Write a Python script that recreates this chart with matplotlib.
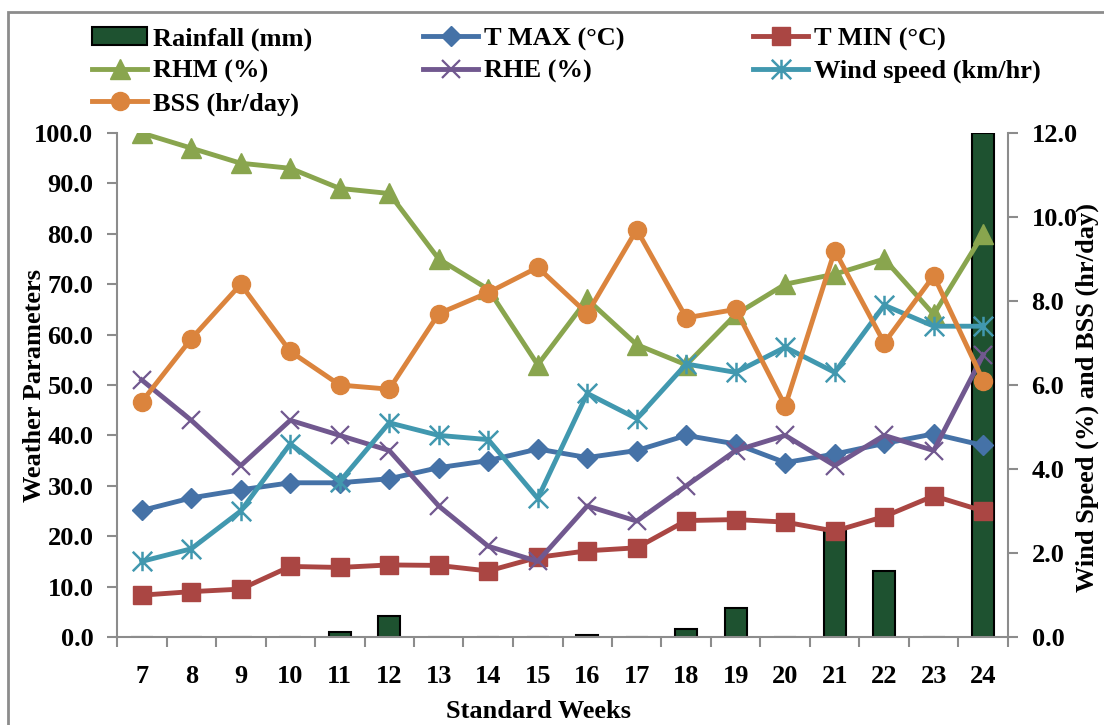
import matplotlib

matplotlib.use("Agg")
import matplotlib.pyplot as plt
import numpy as np
from matplotlib.path import Path
from matplotlib.patches import Rectangle


weeks = ["7", "8", "9", "10", "11", "12", "13", "14", "15", "16", "17", "18",
         "19", "20", "21", "22", "23", "24"]
rainfall = [0, 0, 0, 0, 1.0, 4.2, 0, 0, 0, 0.4, 0, 1.5, 5.8, 0, 21.5, 13.1, 0, 100]
t_max = [25.1, 27.6, 29.2, 30.6, 30.6, 31.4, 33.6, 35.0, 37.3, 35.6, 37.0, 40.0,
         38.3, 34.6, 36.3, 38.4, 40.3, 38.0]
t_min = [8.3, 9.0, 9.5, 14.0, 13.8, 14.3, 14.2, 13.1, 15.8, 17.1, 17.7, 23.1,
         23.3, 22.8, 21.0, 23.9, 28.0, 25.0]
rhm = [100, 97, 94, 93, 89, 88, 75, 69, 54, 67, 58, 54, 64, 70, 72, 75, 64, 80]
rhe = [51, 43, 34, 43, 40, 37, 26, 18, 15, 26, 23, 30, 37, 40, 34, 40, 37, 56]
wind = [1.8, 2.1, 3.0, 4.6, 3.7, 5.1, 4.8, 4.7, 3.3, 5.8, 5.2, 6.5, 6.3, 6.9,
        6.3, 7.9, 7.4, 7.4]
bss = [5.6, 7.1, 8.4, 6.8, 6.0, 5.9, 7.7, 8.2, 8.8, 7.7, 9.7, 7.6, 7.8, 5.5,
       9.2, 7.0, 8.6, 6.1]

C_RAIN = "#1e5230"
C_TMAX = "#4572A7"
C_TMIN = "#AA4643"
C_RHM = "#89A54E"
C_RHE = "#71588F"
C_WIND = "#4198AF"
C_BSS = "#DB843D"
GRAY = "#8c8c8c"

plt.rcParams["font.family"] = ["Liberation Serif", "DejaVu Serif"]
plt.rcParams["font.weight"] = "bold"
FS = 19

W, H = 1104, 725
fig = plt.figure(figsize=(W / 100, H / 100), dpi=100)
ax = fig.add_axes([117 / W, 1 - 637 / H, (1008 - 117) / W, (637 - 133) / H])
ax2 = ax.twinx()

x = np.arange(len(weeks))
LW = 3.5

# asterisk marker like Excel's "star": X plus a vertical bar
star = Path([(0, -1), (0, 1), (-1, -1), (1, 1), (-1, 1), (1, -1)],
            [Path.MOVETO, Path.LINETO] * 3)

h_rain = ax.bar(x, rainfall, width=0.44, color=C_RAIN, edgecolor="black",
                linewidth=1.5, label="Rainfall (mm)", zorder=1)
h_tmax, = ax.plot(x, t_max, color=C_TMAX, lw=LW, marker="D", ms=10,
                  label="T MAX (\u00b0C)", zorder=3)
h_tmin, = ax.plot(x, t_min, color=C_TMIN, lw=LW, marker="s", ms=13,
                  label="T MIN (\u00b0C)", zorder=3)
h_rhm, = ax.plot(x, rhm, color=C_RHM, lw=LW, marker="^", ms=14,
                 label="RHM (%)", zorder=3)
h_rhe, = ax.plot(x, rhe, color=C_RHE, lw=LW, marker="x", ms=13, mew=1.6,
                 label="RHE (%)", zorder=3)
h_wind, = ax2.plot(x, wind, color=C_WIND, lw=LW, marker=star, ms=14, mew=1.8,
                   label="Wind speed (km/hr)", zorder=3)
h_bss, = ax2.plot(x, bss, color=C_BSS, lw=LW, marker="o", ms=13,
                  label="BSS (hr/day)", zorder=3)

ax.set_xlim(-0.5, len(weeks) - 0.5)
ax.set_ylim(0, 100)
ax2.set_ylim(0, 12)
ax.set_yticks(np.arange(0, 101, 10))
ax.set_yticklabels([f"{v:.1f}" for v in np.arange(0, 101, 10)])
ax2.set_yticks(np.arange(0, 13, 2))
ax2.set_yticklabels([f"{v:.1f}" for v in np.arange(0, 13, 2)])
ax.set_xticks(x)
ax.set_xticklabels(weeks)
ax.set_xticks(np.arange(-0.5, len(weeks), 1), minor=True)
ax.tick_params(axis="x", which="major", length=0, pad=20, labelsize=FS)
ax.tick_params(axis="x", which="minor", length=7, width=1.5, color=GRAY)
ax.tick_params(axis="y", length=7, width=1.5, color=GRAY, pad=10, labelsize=FS)
ax2.tick_params(axis="y", length=7, width=1.5, color=GRAY, pad=10, labelsize=FS)

for a in (ax, ax2):
    a.spines["top"].set_visible(False)
    for s in ("left", "right", "bottom"):
        a.spines[s].set_color(GRAY)
        a.spines[s].set_linewidth(1.5)
ax.spines["right"].set_visible(False)
ax2.spines["left"].set_visible(False)
ax2.spines["bottom"].set_visible(False)

fig.text(35 / W, 1 - 386 / H, "Weather Parameters", rotation=90,
         ha="center", va="center", fontsize=FS)
fig.text(1087 / W, 1 - 397 / H, "Wind Speed (%) and BSS (hr/day)", rotation=90,
         ha="center", va="center", fontsize=FS)
fig.text(539 / W, 1 - 711 / H, "Standard Weeks", ha="center", va="center",
         fontsize=FS)

# legend: three columns placed like the original
cols = [([h_rain, h_rhm, h_bss], 92),
        ([h_tmax, h_rhe], 423),
        ([h_tmin, h_wind], 753)]
for handles, px in cols:
    leg = fig.legend(handles=handles, labels=[h.get_label() for h in handles],
                     loc="upper left", bbox_to_anchor=(px / W, 1 - 27 / H),
                     frameon=False, fontsize=FS, borderpad=0, borderaxespad=0,
                     handlelength=2.1, handletextpad=0.2, labelspacing=0.32,
                     numpoints=1)

# chart area border (left and top edges visible)
fig.patches.append(Rectangle((8 / W, -0.1), 1.2, 1 - 12 / H + 0.1,
                             transform=fig.transFigure, fill=False,
                             edgecolor=GRAY, lw=2))

fig.savefig("out.png", dpi=100)
